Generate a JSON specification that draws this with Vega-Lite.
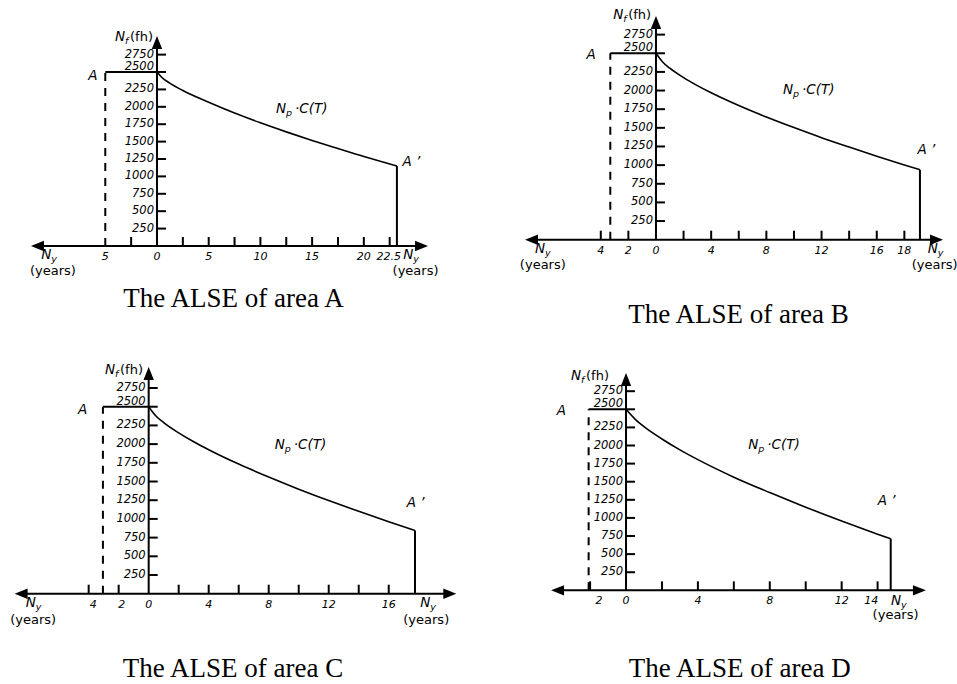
{
"$schema": "https://vega.github.io/schema/vega-lite/v6.json",
"padding": 0,
"background": "white",
"config": {"view": {"stroke": null},
 "text": {"font": "DejaVu Sans", "color": "black", "baseline": "middle"},
 "rule": {"color": "black", "strokeWidth": 2},
 "line": {"color": "black", "strokeWidth": 1.6},
 "tick": {"color": "black", "thickness": 2, "opacity": 1}},
"data": {"values": [
{"p":"A","k":"frame","x":-14.89,"y":-1423},{"p":"A","k":"frame","x":31.33,"y":3492},
{"p":"B","k":"frame","x":-12.68,"y":-1412},{"p":"B","k":"frame","x":21.96,"y":3174},
{"p":"C","k":"frame","x":-9.71,"y":-1247},{"p":"C","k":"frame","x":22.15,"y":3325},
{"p":"D","k":"frame","x":-8.07,"y":-1335},{"p":"D","k":"frame","x":18.53,"y":3388},

{"p":"A","k":"seg","s":"solid","x":-11.56,"y":0,"x2":25.58,"y2":0},
{"p":"A","k":"seg","s":"solid","x":0,"y":0,"x2":0,"y2":2924},
{"p":"A","k":"seg","s":"solid","x":-5,"y":2500,"x2":0,"y2":2500},
{"p":"A","k":"seg","s":"dashed","x":-5,"y":0,"x2":-5,"y2":2500},
{"p":"A","k":"seg","s":"solid","x":23.2,"y":0,"x2":23.2,"y2":1149},
{"p":"B","k":"seg","s":"solid","x":-9.02,"y":0,"x2":20.33,"y2":0},
{"p":"B","k":"seg","s":"solid","x":0,"y":0,"x2":0,"y2":2913},
{"p":"B","k":"seg","s":"solid","x":-3.31,"y":2500,"x2":0,"y2":2500},
{"p":"B","k":"seg","s":"dashed","x":-3.31,"y":0,"x2":-3.31,"y2":2500},
{"p":"B","k":"seg","s":"solid","x":19.13,"y":0,"x2":19.13,"y2":939},
{"p":"C","k":"seg","s":"solid","x":-8.5,"y":0,"x2":20.07,"y2":0},
{"p":"C","k":"seg","s":"solid","x":0,"y":0,"x2":0,"y2":2944},
{"p":"C","k":"seg","s":"solid","x":-3.05,"y":2500,"x2":0,"y2":2500},
{"p":"C","k":"seg","s":"dashed","x":-3.05,"y":0,"x2":-3.05,"y2":2500},
{"p":"C","k":"seg","s":"solid","x":17.75,"y":0,"x2":17.75,"y2":844},
{"p":"D","k":"seg","s":"solid","x":-3.81,"y":0,"x2":16.33,"y2":0},
{"p":"D","k":"seg","s":"solid","x":0,"y":0,"x2":0,"y2":2911},
{"p":"D","k":"seg","s":"solid","x":-2.08,"y":2500,"x2":0,"y2":2500},
{"p":"D","k":"seg","s":"dashed","x":-2.08,"y":0,"x2":-2.08,"y2":2500},
{"p":"D","k":"seg","s":"solid","x":14.73,"y":0,"x2":14.73,"y2":712},

{"p":"A","k":"arrow","dir":"left","x":-11.56,"y":0},{"p":"A","k":"arrow","dir":"right","x":25.58,"y":0},{"p":"A","k":"arrow","dir":"up","x":0,"y":2924},
{"p":"B","k":"arrow","dir":"left","x":-9.02,"y":0},{"p":"B","k":"arrow","dir":"right","x":20.33,"y":0},{"p":"B","k":"arrow","dir":"up","x":0,"y":2913},
{"p":"C","k":"arrow","dir":"left","x":-8.5,"y":0},{"p":"C","k":"arrow","dir":"right","x":20.07,"y":0},{"p":"C","k":"arrow","dir":"up","x":0,"y":2944},
{"p":"D","k":"arrow","dir":"left","x":-3.81,"y":0},{"p":"D","k":"arrow","dir":"right","x":16.33,"y":0},{"p":"D","k":"arrow","dir":"up","x":0,"y":2911},

{"p":"A","k":"curve","x":0,"y":2500},{"p":"A","k":"curve","x":0.5,"y":2418},{"p":"A","k":"curve","x":1.2,"y":2344},{"p":"A","k":"curve","x":2.5,"y":2234},{"p":"A","k":"curve","x":5,"y":2065},{"p":"A","k":"curve","x":7.5,"y":1910},{"p":"A","k":"curve","x":10,"y":1770},{"p":"A","k":"curve","x":12.5,"y":1640},{"p":"A","k":"curve","x":15,"y":1517},{"p":"A","k":"curve","x":17.5,"y":1400},{"p":"A","k":"curve","x":20,"y":1285},{"p":"A","k":"curve","x":23.2,"y":1149},
{"p":"B","k":"curve","x":0,"y":2500},{"p":"B","k":"curve","x":0.5,"y":2380},{"p":"B","k":"curve","x":1,"y":2300},{"p":"B","k":"curve","x":2,"y":2173},{"p":"B","k":"curve","x":3,"y":2066},{"p":"B","k":"curve","x":4,"y":1970},{"p":"B","k":"curve","x":6,"y":1799},{"p":"B","k":"curve","x":8,"y":1645},{"p":"B","k":"curve","x":10,"y":1503},{"p":"B","k":"curve","x":12,"y":1368},{"p":"B","k":"curve","x":14,"y":1242},{"p":"B","k":"curve","x":16,"y":1120},{"p":"B","k":"curve","x":18,"y":1003},{"p":"B","k":"curve","x":19.13,"y":939},
{"p":"C","k":"curve","x":0,"y":2500},{"p":"C","k":"curve","x":0.5,"y":2372},{"p":"C","k":"curve","x":1,"y":2288},{"p":"C","k":"curve","x":2,"y":2150},{"p":"C","k":"curve","x":3,"y":2031},{"p":"C","k":"curve","x":4,"y":1925},{"p":"C","k":"curve","x":6,"y":1733},{"p":"C","k":"curve","x":8,"y":1560},{"p":"C","k":"curve","x":10,"y":1398},{"p":"C","k":"curve","x":12,"y":1246},{"p":"C","k":"curve","x":14,"y":1101},{"p":"C","k":"curve","x":16,"y":962},{"p":"C","k":"curve","x":17.75,"y":844},
{"p":"D","k":"curve","x":0,"y":2500},{"p":"D","k":"curve","x":0.5,"y":2365},{"p":"D","k":"curve","x":1,"y":2260},{"p":"D","k":"curve","x":2,"y":2090},{"p":"D","k":"curve","x":3,"y":1940},{"p":"D","k":"curve","x":4,"y":1805},{"p":"D","k":"curve","x":6,"y":1563},{"p":"D","k":"curve","x":8,"y":1350},{"p":"D","k":"curve","x":10,"y":1148},{"p":"D","k":"curve","x":12,"y":957},{"p":"D","k":"curve","x":14,"y":776},{"p":"D","k":"curve","x":14.73,"y":712},

{"p":"A","k":"yt","y":250},{"p":"A","k":"yt","y":500},{"p":"A","k":"yt","y":750},{"p":"A","k":"yt","y":1000},{"p":"A","k":"yt","y":1250},{"p":"A","k":"yt","y":1500},{"p":"A","k":"yt","y":1750},{"p":"A","k":"yt","y":2000},{"p":"A","k":"yt","y":2250},{"p":"A","k":"yt","y":2500},{"p":"A","k":"yt","y":2750},
{"p":"B","k":"yt","y":250},{"p":"B","k":"yt","y":500},{"p":"B","k":"yt","y":750},{"p":"B","k":"yt","y":1000},{"p":"B","k":"yt","y":1250},{"p":"B","k":"yt","y":1500},{"p":"B","k":"yt","y":1750},{"p":"B","k":"yt","y":2000},{"p":"B","k":"yt","y":2250},{"p":"B","k":"yt","y":2500},{"p":"B","k":"yt","y":2750},
{"p":"C","k":"yt","y":250},{"p":"C","k":"yt","y":500},{"p":"C","k":"yt","y":750},{"p":"C","k":"yt","y":1000},{"p":"C","k":"yt","y":1250},{"p":"C","k":"yt","y":1500},{"p":"C","k":"yt","y":1750},{"p":"C","k":"yt","y":2000},{"p":"C","k":"yt","y":2250},{"p":"C","k":"yt","y":2500},{"p":"C","k":"yt","y":2750},
{"p":"D","k":"yt","y":250},{"p":"D","k":"yt","y":500},{"p":"D","k":"yt","y":750},{"p":"D","k":"yt","y":1000},{"p":"D","k":"yt","y":1250},{"p":"D","k":"yt","y":1500},{"p":"D","k":"yt","y":1750},{"p":"D","k":"yt","y":2000},{"p":"D","k":"yt","y":2250},{"p":"D","k":"yt","y":2500},{"p":"D","k":"yt","y":2750},

{"p":"A","k":"xt","x":-2.5},{"p":"A","k":"xt","x":2.5},{"p":"A","k":"xt","x":5},{"p":"A","k":"xt","x":7.5},{"p":"A","k":"xt","x":10},{"p":"A","k":"xt","x":12.5},{"p":"A","k":"xt","x":15},{"p":"A","k":"xt","x":17.5},{"p":"A","k":"xt","x":20},{"p":"A","k":"xt","x":22.5},
{"p":"B","k":"xt","x":-4},{"p":"B","k":"xt","x":-2},{"p":"B","k":"xt","x":2},{"p":"B","k":"xt","x":4},{"p":"B","k":"xt","x":6},{"p":"B","k":"xt","x":8},{"p":"B","k":"xt","x":10},{"p":"B","k":"xt","x":12},{"p":"B","k":"xt","x":14},{"p":"B","k":"xt","x":16},{"p":"B","k":"xt","x":18},
{"p":"C","k":"xt","x":-4},{"p":"C","k":"xt","x":-2},{"p":"C","k":"xt","x":2},{"p":"C","k":"xt","x":4},{"p":"C","k":"xt","x":6},{"p":"C","k":"xt","x":8},{"p":"C","k":"xt","x":10},{"p":"C","k":"xt","x":12},{"p":"C","k":"xt","x":14},{"p":"C","k":"xt","x":16},
{"p":"D","k":"xt","x":-2},{"p":"D","k":"xt","x":2},{"p":"D","k":"xt","x":4},{"p":"D","k":"xt","x":6},{"p":"D","k":"xt","x":8},{"p":"D","k":"xt","x":10},{"p":"D","k":"xt","x":12},{"p":"D","k":"xt","x":14},

{"p":"A","k":"xtl","x":-5,"t":"5"},{"p":"A","k":"xtl","x":0,"t":"0"},{"p":"A","k":"xtl","x":5,"t":"5"},{"p":"A","k":"xtl","x":10,"t":"10"},{"p":"A","k":"xtl","x":15,"t":"15"},{"p":"A","k":"xtl","x":20,"t":"20"},{"p":"A","k":"xtl","x":22.4,"t":"22.5"},
{"p":"B","k":"xtl","x":-4,"t":"4"},{"p":"B","k":"xtl","x":-2,"t":"2"},{"p":"B","k":"xtl","x":0,"t":"0"},{"p":"B","k":"xtl","x":4,"t":"4"},{"p":"B","k":"xtl","x":8,"t":"8"},{"p":"B","k":"xtl","x":12,"t":"12"},{"p":"B","k":"xtl","x":16,"t":"16"},{"p":"B","k":"xtl","x":18,"t":"18"},
{"p":"C","k":"xtl","x":-3.7,"t":"4"},{"p":"C","k":"xtl","x":-1.8,"t":"2"},{"p":"C","k":"xtl","x":0,"t":"0"},{"p":"C","k":"xtl","x":4,"t":"4"},{"p":"C","k":"xtl","x":8,"t":"8"},{"p":"C","k":"xtl","x":12,"t":"12"},{"p":"C","k":"xtl","x":16,"t":"16"},
{"p":"D","k":"xtl","x":-1.5,"t":"2"},{"p":"D","k":"xtl","x":0,"t":"0"},{"p":"D","k":"xtl","x":4,"t":"4"},{"p":"D","k":"xtl","x":8,"t":"8"},{"p":"D","k":"xtl","x":12,"t":"12"},{"p":"D","k":"xtl","x":13.65,"t":"14"},

{"p":"A","k":"it","x":-6.2,"y":2450,"t":"A"},{"p":"A","k":"it","x":24.6,"y":1207,"t":"A ’"},
{"p":"B","k":"it","x":-4.7,"y":2477,"t":"A"},{"p":"B","k":"it","x":19.6,"y":1207,"t":"A ’"},
{"p":"C","k":"it","x":-4.4,"y":2456,"t":"A"},{"p":"C","k":"it","x":17.8,"y":1213,"t":"A ’"},
{"p":"D","k":"it","x":-3.6,"y":2476,"t":"A"},{"p":"D","k":"it","x":14.5,"y":1227,"t":"A ’"},

{"p":"A","k":"nm","x":-4.06,"y":3000,"sub":"f","suf":"(fh)","sty":"u"},{"p":"A","k":"nm","x":11.5,"y":1969,"sub":"p","suf":"·C(T)","sty":"i"},{"p":"A","k":"nm","x":-11.2,"y":-130,"sub":"y","suf":"","sty":"n"},{"p":"A","k":"nm","x":23.8,"y":-130,"sub":"y","suf":"","sty":"n"},
{"p":"B","k":"nm","x":-3.1,"y":3010,"sub":"f","suf":"(fh)","sty":"u"},{"p":"B","k":"nm","x":9.2,"y":2004,"sub":"p","suf":"·C(T)","sty":"i"},{"p":"B","k":"nm","x":-8.77,"y":-121,"sub":"y","suf":"","sty":"n"},{"p":"B","k":"nm","x":19.7,"y":-121,"sub":"y","suf":"","sty":"n"},
{"p":"C","k":"nm","x":-2.91,"y":2990,"sub":"f","suf":"(fh)","sty":"u"},{"p":"C","k":"nm","x":8.4,"y":1988,"sub":"p","suf":"·C(T)","sty":"i"},{"p":"C","k":"nm","x":-8.2,"y":-125,"sub":"y","suf":"","sty":"n"},{"p":"C","k":"nm","x":18.1,"y":-125,"sub":"y","suf":"","sty":"n"},
{"p":"D","k":"nm","x":-3.06,"y":2955,"sub":"f","suf":"(fh)","sty":"u"},{"p":"D","k":"nm","x":6.8,"y":2011,"sub":"p","suf":"·C(T)","sty":"i"},{"p":"D","k":"nm","x":14.75,"y":-148,"sub":"y","suf":"","sty":"n"},

{"p":"A","k":"yr","x":-10.06,"y":-360,"t":"(years)"},{"p":"A","k":"yr","x":25.0,"y":-360,"t":"(years)"},
{"p":"B","k":"yr","x":-8.2,"y":-335,"t":"(years)"},{"p":"B","k":"yr","x":20.2,"y":-335,"t":"(years)"},
{"p":"C","k":"yr","x":-7.7,"y":-352,"t":"(years)"},{"p":"C","k":"yr","x":18.5,"y":-352,"t":"(years)"},
{"p":"D","k":"yr","x":15.0,"y":-341,"t":"(years)"},

{"p":"A","k":"ttl","x":7.4,"y":-762,"t":"The ALSE of area A"},
{"p":"B","k":"ttl","x":5.98,"y":-1010,"t":"The ALSE of area B"},
{"p":"C","k":"ttl","x":5.62,"y":-1007,"t":"The ALSE of area C"},
{"p":"D","k":"ttl","x":6.33,"y":-1087,"t":"The ALSE of area D"}
]},
"columns": 2,
"spacing": 0,
"bounds": "flush",
"concat": [
{"width": 478, "height": 342, "transform": [{"filter": "datum.p=='A'"}], "layer": [
  {"transform": [{"filter": "datum.k=='frame'"}], "mark": {"type": "point", "opacity": 0},
   "encoding": {"x": {"field": "x", "type": "quantitative", "axis": null, "scale": {"nice": false, "zero": false}}, "y": {"field": "y", "type": "quantitative", "axis": null, "scale": {"nice": false, "zero": false}}}},
  {"transform": [{"filter": "datum.k=='seg'"}], "mark": "rule",
   "encoding": {"x": {"field": "x", "type": "quantitative"}, "y": {"field": "y", "type": "quantitative"}, "x2": {"field": "x2"}, "y2": {"field": "y2"}, "strokeDash": {"field": "s", "type": "nominal", "scale": {"domain": ["solid", "dashed"], "range": [[1, 0], [8, 7]]}, "legend": null}}},
  {"transform": [{"filter": "datum.k=='curve'"}], "mark": {"type": "line", "interpolate": "monotone"},
   "encoding": {"x": {"field": "x", "type": "quantitative"}, "y": {"field": "y", "type": "quantitative"}}},
  {"transform": [{"filter": "datum.k=='arrow'"}], "mark": {"type": "point", "filled": true, "color": "black", "opacity": 1, "size": 169, "strokeWidth": 0},
   "encoding": {"x": {"field": "x", "type": "quantitative"}, "y": {"field": "y", "type": "quantitative"}, "shape": {"field": "dir", "type": "nominal", "scale": {"domain": ["left", "right", "up"], "range": ["M -1 0 L 1 -0.8 L 1 0.8 Z", "M 1 0 L -1 -0.8 L -1 0.8 Z", "M 0 -1 L -0.8 1 L 0.8 1 Z"]}, "legend": null}}},
  {"transform": [{"filter": "datum.k=='yt'"}], "mark": {"type": "tick", "orient": "horizontal", "size": 9, "xOffset": 4.5},
   "encoding": {"x": {"datum": 0, "type": "quantitative"}, "y": {"field": "y", "type": "quantitative"}}},
  {"transform": [{"filter": "datum.k=='yt' && datum.y != 2500"}], "mark": {"type": "text", "align": "right", "dx": -3, "fontStyle": "italic", "fontSize": 11.5},
   "encoding": {"x": {"datum": 0, "type": "quantitative"}, "y": {"field": "y", "type": "quantitative"}, "text": {"field": "y", "type": "quantitative", "format": "d"}}},
  {"transform": [{"filter": "datum.k=='yt' && datum.y == 2500"}], "mark": {"type": "text", "align": "right", "dx": -3, "dy": -5, "fontStyle": "italic", "fontSize": 11.5},
   "encoding": {"x": {"datum": 0, "type": "quantitative"}, "y": {"field": "y", "type": "quantitative"}, "text": {"field": "y", "type": "quantitative", "format": "d"}}},
  {"transform": [{"filter": "datum.k=='xt'"}], "mark": {"type": "tick", "orient": "vertical", "size": 9, "yOffset": -4.5},
   "encoding": {"x": {"field": "x", "type": "quantitative"}, "y": {"datum": 0, "type": "quantitative"}}},
  {"transform": [{"filter": "datum.k=='xtl'"}], "mark": {"type": "text", "align": "center", "baseline": "top", "dy": 5, "fontStyle": "italic", "fontSize": 11},
   "encoding": {"x": {"field": "x", "type": "quantitative"}, "y": {"datum": 0, "type": "quantitative"}, "text": {"field": "t"}}},
  {"transform": [{"filter": "datum.k=='it'"}], "mark": {"type": "text", "align": "center", "fontStyle": "italic", "fontSize": 13.5},
   "encoding": {"x": {"field": "x", "type": "quantitative"}, "y": {"field": "y", "type": "quantitative"}, "text": {"field": "t"}}},
  {"transform": [{"filter": "datum.k=='nm'"}], "mark": {"type": "text", "align": "left", "fontStyle": "italic", "fontSize": 13.5},
   "encoding": {"x": {"field": "x", "type": "quantitative"}, "y": {"field": "y", "type": "quantitative"}, "text": {"value": "N"}}},
  {"transform": [{"filter": "datum.k=='nm'"}], "mark": {"type": "text", "align": "left", "dx": 10, "dy": 4, "fontStyle": "italic", "fontSize": 9.5},
   "encoding": {"x": {"field": "x", "type": "quantitative"}, "y": {"field": "y", "type": "quantitative"}, "text": {"field": "sub"}}},
  {"transform": [{"filter": "datum.k=='nm' && datum.sty=='i'"}], "mark": {"type": "text", "align": "left", "dx": 19, "fontStyle": "italic", "fontSize": 13.5},
   "encoding": {"x": {"field": "x", "type": "quantitative"}, "y": {"field": "y", "type": "quantitative"}, "text": {"field": "suf"}}},
  {"transform": [{"filter": "datum.k=='nm' && datum.sty=='u'"}], "mark": {"type": "text", "align": "left", "dx": 15, "fontSize": 13},
   "encoding": {"x": {"field": "x", "type": "quantitative"}, "y": {"field": "y", "type": "quantitative"}, "text": {"field": "suf"}}},
  {"transform": [{"filter": "datum.k=='yr'"}], "mark": {"type": "text", "align": "center", "fontSize": 13},
   "encoding": {"x": {"field": "x", "type": "quantitative"}, "y": {"field": "y", "type": "quantitative"}, "text": {"field": "t"}}},
  {"transform": [{"filter": "datum.k=='ttl'"}], "mark": {"type": "text", "align": "center", "font": "Liberation Serif", "fontSize": 27},
   "encoding": {"x": {"field": "x", "type": "quantitative"}, "y": {"field": "y", "type": "quantitative"}, "text": {"field": "t"}}}
]},
{"width": 478, "height": 342, "transform": [{"filter": "datum.p=='B'"}], "layer": [
  {"transform": [{"filter": "datum.k=='frame'"}], "mark": {"type": "point", "opacity": 0},
   "encoding": {"x": {"field": "x", "type": "quantitative", "axis": null, "scale": {"nice": false, "zero": false}}, "y": {"field": "y", "type": "quantitative", "axis": null, "scale": {"nice": false, "zero": false}}}},
  {"transform": [{"filter": "datum.k=='seg'"}], "mark": "rule",
   "encoding": {"x": {"field": "x", "type": "quantitative"}, "y": {"field": "y", "type": "quantitative"}, "x2": {"field": "x2"}, "y2": {"field": "y2"}, "strokeDash": {"field": "s", "type": "nominal", "scale": {"domain": ["solid", "dashed"], "range": [[1, 0], [8, 7]]}, "legend": null}}},
  {"transform": [{"filter": "datum.k=='curve'"}], "mark": {"type": "line", "interpolate": "monotone"},
   "encoding": {"x": {"field": "x", "type": "quantitative"}, "y": {"field": "y", "type": "quantitative"}}},
  {"transform": [{"filter": "datum.k=='arrow'"}], "mark": {"type": "point", "filled": true, "color": "black", "opacity": 1, "size": 169, "strokeWidth": 0},
   "encoding": {"x": {"field": "x", "type": "quantitative"}, "y": {"field": "y", "type": "quantitative"}, "shape": {"field": "dir", "type": "nominal", "scale": {"domain": ["left", "right", "up"], "range": ["M -1 0 L 1 -0.8 L 1 0.8 Z", "M 1 0 L -1 -0.8 L -1 0.8 Z", "M 0 -1 L -0.8 1 L 0.8 1 Z"]}, "legend": null}}},
  {"transform": [{"filter": "datum.k=='yt'"}], "mark": {"type": "tick", "orient": "horizontal", "size": 9, "xOffset": 4.5},
   "encoding": {"x": {"datum": 0, "type": "quantitative"}, "y": {"field": "y", "type": "quantitative"}}},
  {"transform": [{"filter": "datum.k=='yt' && datum.y != 2500"}], "mark": {"type": "text", "align": "right", "dx": -3, "fontStyle": "italic", "fontSize": 11.5},
   "encoding": {"x": {"datum": 0, "type": "quantitative"}, "y": {"field": "y", "type": "quantitative"}, "text": {"field": "y", "type": "quantitative", "format": "d"}}},
  {"transform": [{"filter": "datum.k=='yt' && datum.y == 2500"}], "mark": {"type": "text", "align": "right", "dx": -3, "dy": -5, "fontStyle": "italic", "fontSize": 11.5},
   "encoding": {"x": {"datum": 0, "type": "quantitative"}, "y": {"field": "y", "type": "quantitative"}, "text": {"field": "y", "type": "quantitative", "format": "d"}}},
  {"transform": [{"filter": "datum.k=='xt'"}], "mark": {"type": "tick", "orient": "vertical", "size": 9, "yOffset": -4.5},
   "encoding": {"x": {"field": "x", "type": "quantitative"}, "y": {"datum": 0, "type": "quantitative"}}},
  {"transform": [{"filter": "datum.k=='xtl'"}], "mark": {"type": "text", "align": "center", "baseline": "top", "dy": 5, "fontStyle": "italic", "fontSize": 11},
   "encoding": {"x": {"field": "x", "type": "quantitative"}, "y": {"datum": 0, "type": "quantitative"}, "text": {"field": "t"}}},
  {"transform": [{"filter": "datum.k=='it'"}], "mark": {"type": "text", "align": "center", "fontStyle": "italic", "fontSize": 13.5},
   "encoding": {"x": {"field": "x", "type": "quantitative"}, "y": {"field": "y", "type": "quantitative"}, "text": {"field": "t"}}},
  {"transform": [{"filter": "datum.k=='nm'"}], "mark": {"type": "text", "align": "left", "fontStyle": "italic", "fontSize": 13.5},
   "encoding": {"x": {"field": "x", "type": "quantitative"}, "y": {"field": "y", "type": "quantitative"}, "text": {"value": "N"}}},
  {"transform": [{"filter": "datum.k=='nm'"}], "mark": {"type": "text", "align": "left", "dx": 10, "dy": 4, "fontStyle": "italic", "fontSize": 9.5},
   "encoding": {"x": {"field": "x", "type": "quantitative"}, "y": {"field": "y", "type": "quantitative"}, "text": {"field": "sub"}}},
  {"transform": [{"filter": "datum.k=='nm' && datum.sty=='i'"}], "mark": {"type": "text", "align": "left", "dx": 19, "fontStyle": "italic", "fontSize": 13.5},
   "encoding": {"x": {"field": "x", "type": "quantitative"}, "y": {"field": "y", "type": "quantitative"}, "text": {"field": "suf"}}},
  {"transform": [{"filter": "datum.k=='nm' && datum.sty=='u'"}], "mark": {"type": "text", "align": "left", "dx": 15, "fontSize": 13},
   "encoding": {"x": {"field": "x", "type": "quantitative"}, "y": {"field": "y", "type": "quantitative"}, "text": {"field": "suf"}}},
  {"transform": [{"filter": "datum.k=='yr'"}], "mark": {"type": "text", "align": "center", "fontSize": 13},
   "encoding": {"x": {"field": "x", "type": "quantitative"}, "y": {"field": "y", "type": "quantitative"}, "text": {"field": "t"}}},
  {"transform": [{"filter": "datum.k=='ttl'"}], "mark": {"type": "text", "align": "center", "font": "Liberation Serif", "fontSize": 27},
   "encoding": {"x": {"field": "x", "type": "quantitative"}, "y": {"field": "y", "type": "quantitative"}, "text": {"field": "t"}}}
]},
{"width": 478, "height": 342, "transform": [{"filter": "datum.p=='C'"}], "layer": [
  {"transform": [{"filter": "datum.k=='frame'"}], "mark": {"type": "point", "opacity": 0},
   "encoding": {"x": {"field": "x", "type": "quantitative", "axis": null, "scale": {"nice": false, "zero": false}}, "y": {"field": "y", "type": "quantitative", "axis": null, "scale": {"nice": false, "zero": false}}}},
  {"transform": [{"filter": "datum.k=='seg'"}], "mark": "rule",
   "encoding": {"x": {"field": "x", "type": "quantitative"}, "y": {"field": "y", "type": "quantitative"}, "x2": {"field": "x2"}, "y2": {"field": "y2"}, "strokeDash": {"field": "s", "type": "nominal", "scale": {"domain": ["solid", "dashed"], "range": [[1, 0], [8, 7]]}, "legend": null}}},
  {"transform": [{"filter": "datum.k=='curve'"}], "mark": {"type": "line", "interpolate": "monotone"},
   "encoding": {"x": {"field": "x", "type": "quantitative"}, "y": {"field": "y", "type": "quantitative"}}},
  {"transform": [{"filter": "datum.k=='arrow'"}], "mark": {"type": "point", "filled": true, "color": "black", "opacity": 1, "size": 169, "strokeWidth": 0},
   "encoding": {"x": {"field": "x", "type": "quantitative"}, "y": {"field": "y", "type": "quantitative"}, "shape": {"field": "dir", "type": "nominal", "scale": {"domain": ["left", "right", "up"], "range": ["M -1 0 L 1 -0.8 L 1 0.8 Z", "M 1 0 L -1 -0.8 L -1 0.8 Z", "M 0 -1 L -0.8 1 L 0.8 1 Z"]}, "legend": null}}},
  {"transform": [{"filter": "datum.k=='yt'"}], "mark": {"type": "tick", "orient": "horizontal", "size": 9, "xOffset": 4.5},
   "encoding": {"x": {"datum": 0, "type": "quantitative"}, "y": {"field": "y", "type": "quantitative"}}},
  {"transform": [{"filter": "datum.k=='yt' && datum.y != 2500"}], "mark": {"type": "text", "align": "right", "dx": -3, "fontStyle": "italic", "fontSize": 11.5},
   "encoding": {"x": {"datum": 0, "type": "quantitative"}, "y": {"field": "y", "type": "quantitative"}, "text": {"field": "y", "type": "quantitative", "format": "d"}}},
  {"transform": [{"filter": "datum.k=='yt' && datum.y == 2500"}], "mark": {"type": "text", "align": "right", "dx": -3, "dy": -5, "fontStyle": "italic", "fontSize": 11.5},
   "encoding": {"x": {"datum": 0, "type": "quantitative"}, "y": {"field": "y", "type": "quantitative"}, "text": {"field": "y", "type": "quantitative", "format": "d"}}},
  {"transform": [{"filter": "datum.k=='xt'"}], "mark": {"type": "tick", "orient": "vertical", "size": 9, "yOffset": -4.5},
   "encoding": {"x": {"field": "x", "type": "quantitative"}, "y": {"datum": 0, "type": "quantitative"}}},
  {"transform": [{"filter": "datum.k=='xtl'"}], "mark": {"type": "text", "align": "center", "baseline": "top", "dy": 5, "fontStyle": "italic", "fontSize": 11},
   "encoding": {"x": {"field": "x", "type": "quantitative"}, "y": {"datum": 0, "type": "quantitative"}, "text": {"field": "t"}}},
  {"transform": [{"filter": "datum.k=='it'"}], "mark": {"type": "text", "align": "center", "fontStyle": "italic", "fontSize": 13.5},
   "encoding": {"x": {"field": "x", "type": "quantitative"}, "y": {"field": "y", "type": "quantitative"}, "text": {"field": "t"}}},
  {"transform": [{"filter": "datum.k=='nm'"}], "mark": {"type": "text", "align": "left", "fontStyle": "italic", "fontSize": 13.5},
   "encoding": {"x": {"field": "x", "type": "quantitative"}, "y": {"field": "y", "type": "quantitative"}, "text": {"value": "N"}}},
  {"transform": [{"filter": "datum.k=='nm'"}], "mark": {"type": "text", "align": "left", "dx": 10, "dy": 4, "fontStyle": "italic", "fontSize": 9.5},
   "encoding": {"x": {"field": "x", "type": "quantitative"}, "y": {"field": "y", "type": "quantitative"}, "text": {"field": "sub"}}},
  {"transform": [{"filter": "datum.k=='nm' && datum.sty=='i'"}], "mark": {"type": "text", "align": "left", "dx": 19, "fontStyle": "italic", "fontSize": 13.5},
   "encoding": {"x": {"field": "x", "type": "quantitative"}, "y": {"field": "y", "type": "quantitative"}, "text": {"field": "suf"}}},
  {"transform": [{"filter": "datum.k=='nm' && datum.sty=='u'"}], "mark": {"type": "text", "align": "left", "dx": 15, "fontSize": 13},
   "encoding": {"x": {"field": "x", "type": "quantitative"}, "y": {"field": "y", "type": "quantitative"}, "text": {"field": "suf"}}},
  {"transform": [{"filter": "datum.k=='yr'"}], "mark": {"type": "text", "align": "center", "fontSize": 13},
   "encoding": {"x": {"field": "x", "type": "quantitative"}, "y": {"field": "y", "type": "quantitative"}, "text": {"field": "t"}}},
  {"transform": [{"filter": "datum.k=='ttl'"}], "mark": {"type": "text", "align": "center", "font": "Liberation Serif", "fontSize": 27},
   "encoding": {"x": {"field": "x", "type": "quantitative"}, "y": {"field": "y", "type": "quantitative"}, "text": {"field": "t"}}}
]},
{"width": 478, "height": 342, "transform": [{"filter": "datum.p=='D'"}], "layer": [
  {"transform": [{"filter": "datum.k=='frame'"}], "mark": {"type": "point", "opacity": 0},
   "encoding": {"x": {"field": "x", "type": "quantitative", "axis": null, "scale": {"nice": false, "zero": false}}, "y": {"field": "y", "type": "quantitative", "axis": null, "scale": {"nice": false, "zero": false}}}},
  {"transform": [{"filter": "datum.k=='seg'"}], "mark": "rule",
   "encoding": {"x": {"field": "x", "type": "quantitative"}, "y": {"field": "y", "type": "quantitative"}, "x2": {"field": "x2"}, "y2": {"field": "y2"}, "strokeDash": {"field": "s", "type": "nominal", "scale": {"domain": ["solid", "dashed"], "range": [[1, 0], [8, 7]]}, "legend": null}}},
  {"transform": [{"filter": "datum.k=='curve'"}], "mark": {"type": "line", "interpolate": "monotone"},
   "encoding": {"x": {"field": "x", "type": "quantitative"}, "y": {"field": "y", "type": "quantitative"}}},
  {"transform": [{"filter": "datum.k=='arrow'"}], "mark": {"type": "point", "filled": true, "color": "black", "opacity": 1, "size": 169, "strokeWidth": 0},
   "encoding": {"x": {"field": "x", "type": "quantitative"}, "y": {"field": "y", "type": "quantitative"}, "shape": {"field": "dir", "type": "nominal", "scale": {"domain": ["left", "right", "up"], "range": ["M -1 0 L 1 -0.8 L 1 0.8 Z", "M 1 0 L -1 -0.8 L -1 0.8 Z", "M 0 -1 L -0.8 1 L 0.8 1 Z"]}, "legend": null}}},
  {"transform": [{"filter": "datum.k=='yt'"}], "mark": {"type": "tick", "orient": "horizontal", "size": 9, "xOffset": 4.5},
   "encoding": {"x": {"datum": 0, "type": "quantitative"}, "y": {"field": "y", "type": "quantitative"}}},
  {"transform": [{"filter": "datum.k=='yt' && datum.y != 2500"}], "mark": {"type": "text", "align": "right", "dx": -3, "fontStyle": "italic", "fontSize": 11.5},
   "encoding": {"x": {"datum": 0, "type": "quantitative"}, "y": {"field": "y", "type": "quantitative"}, "text": {"field": "y", "type": "quantitative", "format": "d"}}},
  {"transform": [{"filter": "datum.k=='yt' && datum.y == 2500"}], "mark": {"type": "text", "align": "right", "dx": -3, "dy": -5, "fontStyle": "italic", "fontSize": 11.5},
   "encoding": {"x": {"datum": 0, "type": "quantitative"}, "y": {"field": "y", "type": "quantitative"}, "text": {"field": "y", "type": "quantitative", "format": "d"}}},
  {"transform": [{"filter": "datum.k=='xt'"}], "mark": {"type": "tick", "orient": "vertical", "size": 9, "yOffset": -4.5},
   "encoding": {"x": {"field": "x", "type": "quantitative"}, "y": {"datum": 0, "type": "quantitative"}}},
  {"transform": [{"filter": "datum.k=='xtl'"}], "mark": {"type": "text", "align": "center", "baseline": "top", "dy": 5, "fontStyle": "italic", "fontSize": 11},
   "encoding": {"x": {"field": "x", "type": "quantitative"}, "y": {"datum": 0, "type": "quantitative"}, "text": {"field": "t"}}},
  {"transform": [{"filter": "datum.k=='it'"}], "mark": {"type": "text", "align": "center", "fontStyle": "italic", "fontSize": 13.5},
   "encoding": {"x": {"field": "x", "type": "quantitative"}, "y": {"field": "y", "type": "quantitative"}, "text": {"field": "t"}}},
  {"transform": [{"filter": "datum.k=='nm'"}], "mark": {"type": "text", "align": "left", "fontStyle": "italic", "fontSize": 13.5},
   "encoding": {"x": {"field": "x", "type": "quantitative"}, "y": {"field": "y", "type": "quantitative"}, "text": {"value": "N"}}},
  {"transform": [{"filter": "datum.k=='nm'"}], "mark": {"type": "text", "align": "left", "dx": 10, "dy": 4, "fontStyle": "italic", "fontSize": 9.5},
   "encoding": {"x": {"field": "x", "type": "quantitative"}, "y": {"field": "y", "type": "quantitative"}, "text": {"field": "sub"}}},
  {"transform": [{"filter": "datum.k=='nm' && datum.sty=='i'"}], "mark": {"type": "text", "align": "left", "dx": 19, "fontStyle": "italic", "fontSize": 13.5},
   "encoding": {"x": {"field": "x", "type": "quantitative"}, "y": {"field": "y", "type": "quantitative"}, "text": {"field": "suf"}}},
  {"transform": [{"filter": "datum.k=='nm' && datum.sty=='u'"}], "mark": {"type": "text", "align": "left", "dx": 15, "fontSize": 13},
   "encoding": {"x": {"field": "x", "type": "quantitative"}, "y": {"field": "y", "type": "quantitative"}, "text": {"field": "suf"}}},
  {"transform": [{"filter": "datum.k=='yr'"}], "mark": {"type": "text", "align": "center", "fontSize": 13},
   "encoding": {"x": {"field": "x", "type": "quantitative"}, "y": {"field": "y", "type": "quantitative"}, "text": {"field": "t"}}},
  {"transform": [{"filter": "datum.k=='ttl'"}], "mark": {"type": "text", "align": "center", "font": "Liberation Serif", "fontSize": 27},
   "encoding": {"x": {"field": "x", "type": "quantitative"}, "y": {"field": "y", "type": "quantitative"}, "text": {"field": "t"}}}
]}
]
}
